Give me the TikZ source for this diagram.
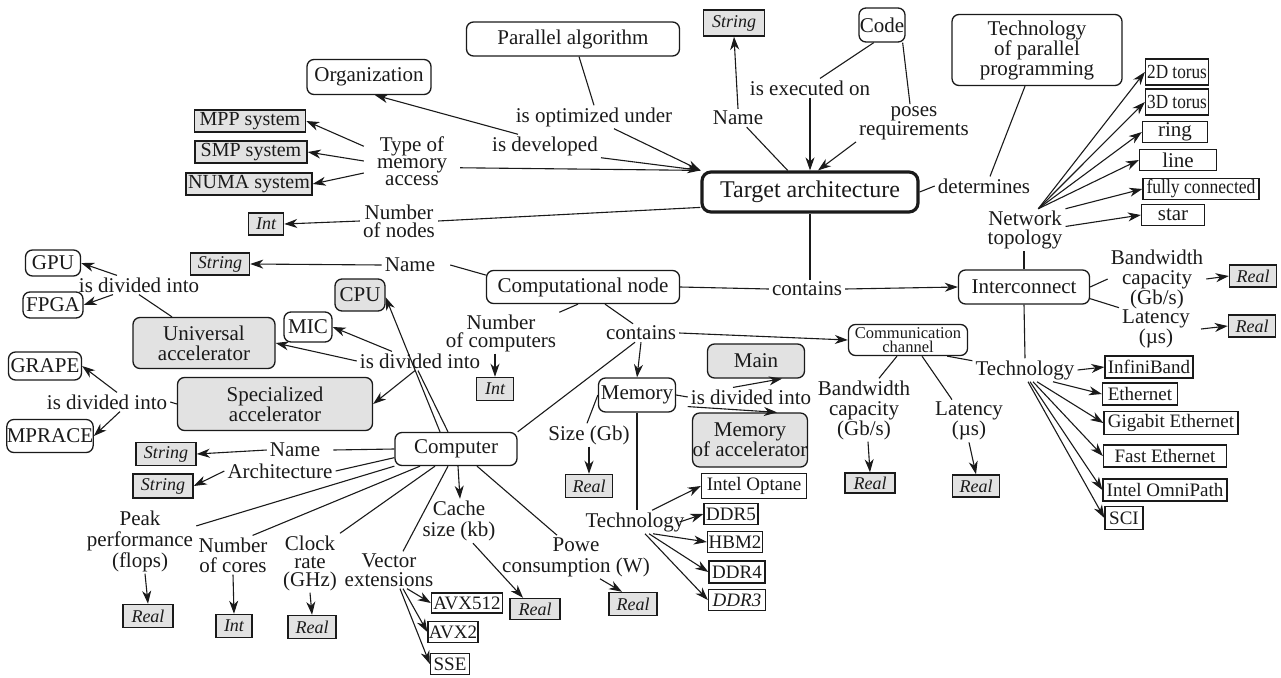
\documentclass[tikz,border=0pt]{standalone}
\usepackage{fontspec}
\IfFontExistsTF{LiberationSerif-Regular.ttf}
  {\setmainfont{LiberationSerif}[Extension=.ttf, UprightFont=*-Regular,
     ItalicFont=*-Italic, BoldFont=*-Bold, BoldItalicFont=*-BoldItalic]}
  {\setmainfont{Liberation Serif}}
\usetikzlibrary{arrows.meta}
\newcommand\myfs[2]{\fontsize{#1}{#2}\selectfont}
\newcommand\narrow[2]{\scalebox{#1}[1]{#2}}
\definecolor{ink}{HTML}{1A1A1A}
\definecolor{shade}{HTML}{E2E2E2}
\tikzset{
  base/.style={inner sep=0pt, align=center, text=ink},
  bx/.style 2 args={minimum width=#1pt, minimum height=#2pt},
  rnode/.style={base, draw=ink, rounded corners=7pt, line width=1.3pt, font=\rmfamily\myfs{21}{20}},
  gnode/.style={rnode, fill=shade},
  val/.style={base, draw=ink, fill=shade, line width=1.5pt, font=\rmfamily\myfs{18}{18}\itshape},
  sys/.style={val, font=\rmfamily\myfs{20}{20}},
  item/.style={base, draw=ink, line width=1.3pt, font=\rmfamily\myfs{19}{19}},
  topo/.style={item, font=\rmfamily\myfs{20}{20}},
  lbl/.style={base, inner xsep=3pt, inner ysep=2pt, font=\rmfamily\myfs{21}{#1}},
  lbl/.default=20,
  con/.style={line width=1.1pt, draw=ink},
  arr/.style={con, -{Stealth[length=13pt,width=9pt,inset=4pt]}},
}
\begin{document}
\begin{tikzpicture}[x=1pt,y=-1pt]
\useasboundingbox (0,0) rectangle (1281,677);

% ---------- upper part ----------
\node[rnode, line width=3.2pt, rounded corners=9pt, bx={216}{40}, font=\rmfamily\myfs{24}{24}] (ta) at (810,192) {Target architecture};
\node[rnode, bx={213}{34}] (pa) at (573,39) {Parallel algorithm};
\node[val, bx={61}{26}] (s1) at (734,23) {String};
\node[rnode, bx={46}{34}] (code) at (882,25) {Code};
\node[rnode, bx={170}{71}] (tpp) at (1037,50) {Technology\\of parallel\\programming};
\node[rnode, bx={124}{35}] (org) at (369,77) {Organization};
\node[sys, bx={111}{22}] (mpp) at (250,121) {MPP system};
\node[sys, bx={112}{22}] (smp) at (251,152) {SMP system};
\node[sys, bx={126}{22}] (numa) at (249,184) {NUMA system};
\node[val, bx={35}{22}] (int1) at (266,224) {Int};

\node[lbl] (lopt) at (594,117) {is optimized under};
\node[lbl] (ldev) at (545,146) {is developed};
\node[lbl=17, inner xsep=13pt] (lmem) at (412,161) {Type of\\memory\\access};
\node[lbl] (lname1) at (738,118) {Name};
\node[lbl] (lexe) at (810,88) {is executed on};
\node[lbl=19] (lposes) at (914,123) {poses\\requirements};
\node[lbl] (ldet) at (984,186) {determines};
\node[lbl=18] (lnn) at (399,221) {Number\\of nodes};
\node[lbl=19] (lnt) at (1025,230) {Network\\topology};

\node[topo, bx={63}{26}] (t2d) at (1177,72) {\narrow{0.86}{2D torus}};
\node[topo, bx={63}{26}] (t3d) at (1177,102) {\narrow{0.86}{3D torus}};
\node[topo, bx={65}{21}, font=\rmfamily\myfs{21}{21}] (tring) at (1175,132) {ring};
\node[topo, bx={77}{21}, font=\rmfamily\myfs{21}{21}] (tline) at (1178,160) {line};
\node[topo, bx={116}{21}] (tfull) at (1201,189) {\narrow{0.88}{fully connected}};
\node[topo, bx={63}{21}, font=\rmfamily\myfs{21}{21}] (tstar) at (1173,215) {star};

% ---------- middle part ----------
\node[rnode, bx={55}{26}] (gpu) at (53,263) {GPU};
\node[rnode, bx={60}{26}] (fpga) at (53,305) {FPGA};
\node[lbl] (ldiv1) at (139,285) {is divided into};
\node[val, bx={59}{22}] (s2) at (220,264) {String};
\node[lbl] (lname2) at (410,265) {Name};
\node[gnode, bx={50}{32}] (cpu) at (360,295) {CPU};
\node[rnode, bx={48}{30}] (mic) at (308,327) {MIC};
\node[gnode, bx={142}{51}] (ua) at (204,343) {Universal\\accelerator};
\node[lbl] (ldiv2) at (420,361) {is divided into};
\node[rnode, bx={73}{28}] (grape) at (45,366) {GRAPE};
\node[gnode, bx={195}{53}] (sa) at (275,404) {Specialized\\accelerator};
\node[lbl] (ldiv3) at (107,402) {is divided into};
\node[rnode, bx={85}{33}] (mprace) at (50,436) {MPRACE};

\node[rnode, bx={193}{33}] (cn) at (583,287) {Computational node};
\node[lbl] (lcont1) at (807,289) {contains};
\node[rnode, bx={131}{34}] (ic) at (1024,287) {Interconnect};
\node[lbl] (lbw1) at (1157,279) {Bandwidth\\capacity\\(Gb/s)};
\node[lbl] (llat1) at (1156,329) {Latency\\(µs)};
\node[val, bx={47}{22}] (r1) at (1253,276) {Real};
\node[val, bx={47}{22}] (r2) at (1252,326) {Real};

\node[lbl=18] (lnc) at (501,333) {Number\\of computers};
\node[val, bx={37}{23}] (int2) at (495,389) {Int};
\node[lbl] (lcont2) at (641,333) {contains};
\node[rnode, bx={119}{31}, font=\rmfamily\myfs{16.5}{14}] (cc) at (908,340) {Communication\\channel};
\node[gnode, bx={97}{34}] (main) at (756,361) {Main};
\node[rnode, bx={77}{34}] (mem) at (637,395) {Memory};
\node[lbl] (ldiv4) at (751,397) {is divided into};
\node[gnode, bx={110}{54}] (moa) at (750,440) {Memory\\of accelerator};
\node[lbl] (lsize) at (589,435) {Size (Gb)};
\node[val, bx={47}{23}] (r3) at (589,486) {Real};
\node[lbl] (lbw2) at (864,410) {Bandwidth\\capacity\\(Gb/s)};
\node[lbl=19] (llat2) at (969,421) {Latency\\(µs)};
\node[val, bx={50}{20}] (r4) at (870,483) {Real};
\node[val, bx={47}{22}] (r5) at (976,486) {Real};

\node[lbl] (ltech1) at (1025,370) {Technology};
\node[item, bx={88}{22}] (ib) at (1149,367) {InfiniBand};
\node[item, bx={75}{22}] (eth) at (1140,394) {Ethernet};
\node[item, bx={134}{23}] (geth) at (1171,423) {Gigabit Ethernet};
\node[item, bx={123}{22}] (feth) at (1165,456) {Fast Ethernet};
\node[item, bx={124}{22}] (iop) at (1165,490) {Intel OmniPath};
\node[item, bx={38}{23}] (sci) at (1124,518) {SCI};

% ---------- lower part ----------
\node[rnode, bx={122}{33}] (comp) at (456,449) {Computer};
\node[lbl] (lname3) at (295,450) {Name};
\node[val, bx={60}{23}] (s3) at (166,454) {String};
\node[lbl] (larch) at (280,471) {Architecture};
\node[val, bx={60}{24}] (s4) at (163,486) {String};
\node[lbl=21] (lpeak) at (140,541) {Peak\\performance\\(flops)};
\node[val, bx={50}{23}] (r6) at (148,616) {Real};
\node[lbl] (lcores) at (233,555) {Number\\of cores};
\node[val, bx={36}{23}] (int3) at (234,626) {Int};
\node[lbl=18] (lclock) at (310,563) {Clock\\rate\\(GHz)};
\node[val, bx={48}{23}] (r7) at (312,627) {Real};
\node[lbl=19] (lvec) at (389,570) {Vector\\extensions};
\node[item, bx={71}{20}] (avx512) at (467,603) {AVX512};
\node[item, bx={50}{21}] (avx2) at (453,632) {AVX2};
\node[item, bx={39}{21}] (sse) at (450,664) {SSE};
\node[lbl=21] (lcache) at (459,521) {Cache\\size (kb)};
\node[val, bx={50}{21}] (r8) at (535,609) {Real};
\node[lbl=21] (lpow) at (576,557) {Powe\\consumption (W)};
\node[val, bx={48}{23}] (r9) at (633,604) {Real};
\node[lbl] (ltech2) at (635,522) {Technology};
\node[item, bx={105}{25}] (optane) at (754,486) {Intel Optane};
\node[item, bx={54}{21}] (ddr5) at (731,514) {DDR5};
\node[item, bx={55}{21}] (hbm2) at (735,542) {HBM2};
\node[item, bx={56}{22}] (ddr4) at (737,572) {DDR4};
\node[item, bx={57}{21}, font=\rmfamily\myfs{19}{19}\itshape] (ddr3) at (737,600) {DDR3};

% ---------- connectors: target architecture ----------
\draw[con] ([xshift=6pt]pa.south) -- (lopt.north);
\draw[arr] ([xshift=20pt]lopt.south) -- (ta.north west);
\draw[arr] (ldev.south east) -- (ta.north west);
\draw[arr] ([xshift=-27pt]ldev.north) -- ([xshift=6pt]org.south);
\draw[con] (lmem.-8) -- (ta.north west);
\draw[arr] (lmem.163) -- (mpp.east);
\draw[arr] (lmem.west) -- (smp.east);
\draw[arr] (lmem.194) -- (numa.east);
\draw[con] (ta.188) -- (lnn.east);
\draw[arr] (lnn.west) -- (int1.east);
\draw[con] (ta.136) -- (lname1);
\draw[arr] (lname1.north) -- (s1.south);
\draw[con] (code.-115) -- ([xshift=10pt]lexe.north);
\draw[arr] (lexe.south) -- (ta.north);
\draw[con] ([xshift=-3pt]code.south east) -- ([xshift=-4pt]lposes.north);
\draw[arr] (lposes.south west) -- ([xshift=8pt]ta.north);
\draw[con] (ta.east) -- (ldet.west);
\draw[con] ([xshift=-12pt]tpp.south) -- ([xshift=6pt]ldet.north);
\draw[con] (ta.south) -- (ta.south |- lcont1.north);

% ---------- interconnect ----------
\draw[con] (cn.east) -- (lcont1.west);
\draw[arr] (lcont1.east) -- (ic.west);
\draw[con] (ic.north) -- (ic.north |- lnt.south);
\foreach \t in {t2d,t3d,tring,tline} \draw[arr] (lnt.58) -- (\t.west);
\draw[arr] (lnt.north east) -- (tfull.west);
\draw[arr] (lnt.5) -- (tstar.west);
\draw[con] (ic.east) -- (lbw1.west);
\draw[con] (ic.-10) -- (llat1.north west);
\draw[arr] (lbw1.east) -- (r1.west);
\draw[arr] ([xshift=8pt]llat1.east) -- (r2.west);
\draw[con] (ic.south) -- (ltech1.north);
\draw[arr] (ltech1.east) -- (ib.west);
\draw[arr] ([xshift=28pt]ltech1.south) -- (eth.west);
\draw[arr] ([xshift=12pt]ltech1.south) -- (geth.west);
\draw[arr] ([xshift=8pt]ltech1.south) -- (feth.west);
\draw[arr] ([xshift=5pt]ltech1.south) -- (iop.west);
\draw[arr] ([xshift=3pt]ltech1.south) -- (sci.west);

% ---------- computational node ----------
\draw[con] ([xshift=12pt]lname2.east) -- (cn.173);
\draw[arr] (lname2.west) -- (s2.east);
\draw[con] ([xshift=-5pt]cn.south) -- (lnc.north east);
\draw[arr] ([xshift=-6pt]lnc.south) -- (int2.north);
\draw[con] ([xshift=22pt]cn.south) -- ([xshift=-8pt]lcont2.north);
\draw[arr] (lcont2.south) -- (mem.north);
\draw[arr] (lcont2.east) -- (cc.west);
\draw[con] ([xshift=-6pt]lcont2.south) -- (comp.north east);

% ---------- communication channel ----------
\draw[con] ([xshift=-11pt]cc.south) -- ([xshift=15pt]lbw2.north);
\draw[arr] ([xshift=4pt]lbw2.south) -- (r4.north);
\draw[con] ([xshift=14pt]cc.south) -- ([xshift=-17pt]llat2.north);
\draw[arr] (llat2.south) -- (r5.north);
\draw[con] ([xshift=-21pt]cc.south east) -- (ltech1.170);

% ---------- memory ----------
\draw[con] (mem.west) -- ([xshift=-2pt]lsize.north);
\draw[arr] (lsize.south) -- (r3.north);
\draw[con] (mem.east) -- (ldiv4.west);
\draw[arr] ([xshift=-18pt]ldiv4.north) -- ([xshift=26pt]main.south);
\draw[arr] (ldiv4.south west) -- ([xshift=27pt]moa.north);
\draw[con] (mem.south) -- (mem.south |- ltech2.north);
\draw[arr] ([xshift=17pt]ltech2.north) -- (optane.west);
\draw[arr] ([xshift=-8pt]ltech2.east) -- (ddr5.west);
\draw[arr] ([xshift=18pt]ltech2.south) -- (hbm2.west);
\draw[arr] ([xshift=14pt]ltech2.south) -- (ddr4.west);
\draw[arr] ([xshift=10pt]ltech2.south) -- (ddr3.west);

% ---------- computer and accelerators ----------
\draw[con] ([xshift=-8pt]comp.north) -- ([xshift=-2pt]ldiv2.south);
\draw[arr] ([xshift=-16pt]comp.north) -- (cpu.-5);
\draw[arr] ([xshift=-28pt]ldiv2.north) -- (mic.east);
\draw[arr] (ldiv2.west) -- (ua.east);
\draw[arr] ([xshift=-5pt]ldiv2.south) -- (sa.east);
\draw[con] ([xshift=-32pt]ua.north) -- (ldiv1.south);
\draw[arr] ([xshift=-22pt]ldiv1.north) -- (gpu.east);
\draw[arr] ([xshift=-26pt]ldiv1.south) -- (fpga.east);
\draw[con] (sa.west) -- (ldiv3.east);
\draw[arr] ([xshift=10pt]ldiv3.north) -- (grape.east);
\draw[arr] ([xshift=13pt]ldiv3.south) -- (mprace.east);

\draw[con] (comp.west) -- ([xshift=10pt]lname3.east);
\draw[arr] (lname3.west) -- (s3.east);
\draw[con] (comp.188) -- (larch.east);
\draw[arr] (larch.west) -- (s4.east);
\draw[con] (comp.south west) -- (lpeak.15);
\draw[con] ([xshift=-36pt]comp.south) -- (lcores.45);
\draw[con] ([xshift=-21pt]comp.south) -- (lclock.north east);
\draw[con] ([xshift=-8pt]comp.south) -- ([xshift=14pt]lvec.north);
\draw[arr] ([xshift=2pt]comp.south) -- ([xshift=1pt]lcache.north);
\draw[con] ([xshift=21pt]comp.south) -- ([xshift=-19pt]lpow.north);
\draw[arr] ([xshift=5pt]lpeak.south) -- (r6.north);
\draw[arr] (lcores.south) -- (int3.north);
\draw[arr] (lclock.south) -- (r7.north);
\draw[arr] ([xshift=18pt]lvec.south) -- (avx512.west);
\draw[arr] ([xshift=14pt]lvec.south) -- (avx2.west);
\draw[arr] ([xshift=11pt]lvec.south) -- (sse.west);
\draw[arr] ([xshift=14pt]lcache.south) -- ([xshift=-12pt]r8.north);
\draw[arr] ([xshift=24pt]lpow.south) -- ([xshift=-11pt]r9.north);
\end{tikzpicture}
\end{document}
